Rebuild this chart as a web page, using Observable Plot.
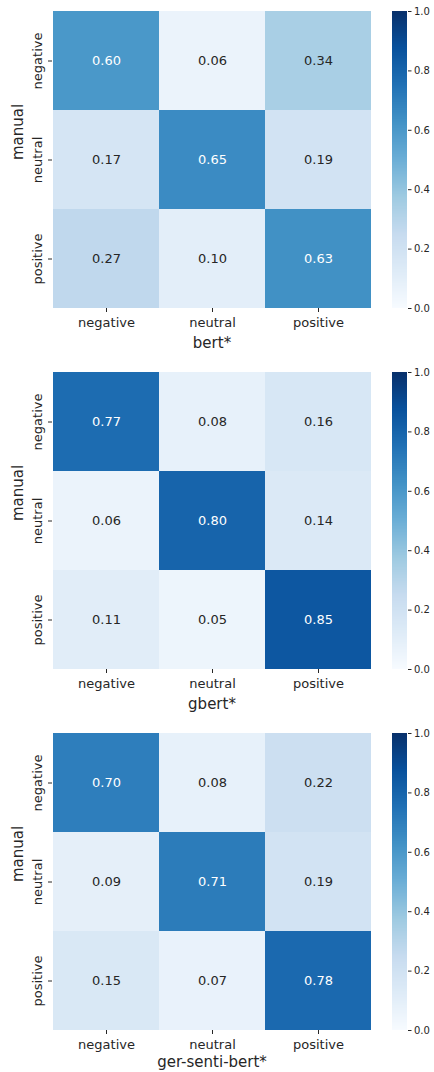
<!DOCTYPE html>
<html>
<head>
<meta charset="utf-8">
<script src="https://cdn.jsdelivr.net/npm/d3@7"></script>
<script src="https://cdn.jsdelivr.net/npm/@observablehq/plot@0.6"></script>
<style>
  body { margin: 0; background: #fff; font-family: "DejaVu Sans", sans-serif; }
  .panel { position: relative; width: 434px; }
  .panel svg { position: absolute; top: 0; }
</style>
</head>
<body>
<div id="charts"></div>
<script>
// Sentiment classes (rows: manual annotation, columns: model prediction)
const classes = ["negative", "neutral", "positive"];

// Row-normalised confusion matrices for each model
const bertMatrix = [
  [0.60, 0.06, 0.34],
  [0.17, 0.65, 0.19],
  [0.27, 0.10, 0.63]
];
const gbertMatrix = [
  [0.77, 0.08, 0.16],
  [0.06, 0.80, 0.14],
  [0.11, 0.05, 0.85]
];
const gerSentiBertMatrix = [
  [0.70, 0.08, 0.22],
  [0.09, 0.71, 0.19],
  [0.15, 0.07, 0.78]
];

const modelNames = ["bert*", "gbert*", "ger-senti-bert*"];
const matrices = [bertMatrix, gbertMatrix, gerSentiBertMatrix];
const rowAxisTitle = "manual";
const colorbarTicks = [0, 0.2, 0.4, 0.6, 0.8, 1.0];

// ColorBrewer "Blues", linearly interpolated
const bluesPalette = ["#f7fbff", "#deebf7", "#c6dbef", "#9ecae1", "#6baed6",
                      "#4292c6", "#2171b5", "#08519c", "#08306b"];
const colorScale = {
  type: "linear",
  domain: bluesPalette.map((_, i) => i / (bluesPalette.length - 1)),
  range: bluesPalette,
  interpolate: "rgb"
};

const font = "DejaVu Sans, sans-serif";
const ink = "#262626";
const panelHeights = [361, 361, 350];
const titleOffsets = [35, 35, 32];

const root = document.getElementById("charts");

matrices.forEach((matrix, k) => {
  const cells = [];
  matrix.forEach((row, i) => row.forEach((value, j) => {
    cells.push({manual: classes[i], predicted: classes[j], value});
  }));

  const panel = document.createElement("div");
  panel.className = "panel";
  panel.style.height = panelHeights[k] + "px";
  root.appendChild(panel);

  const heatmap = Plot.plot({
    width: 380,
    height: 361,
    marginLeft: 52,
    marginRight: 9,
    marginTop: 11,
    marginBottom: 53,
    style: {fontFamily: font, color: ink, background: "transparent"},
    x: {domain: classes, padding: 0, axis: null},
    y: {domain: classes, padding: 0, axis: null},
    color: colorScale,
    marks: [
      Plot.cell(cells, {x: "predicted", y: "manual", fill: "value", inset: 0}),
      Plot.text(cells, {
        x: "predicted", y: "manual",
        text: d => d.value.toFixed(2),
        fill: d => d.value > 0.5 ? "#ffffff" : ink,
        fontSize: 13
      }),
      Plot.axisX({
        anchor: "bottom", tickSize: 4, tickPadding: 5,
        fontSize: 13, label: null, stroke: ink, fill: ink
      }),
      Plot.axisY({
        anchor: "left", tickSize: 4, tickPadding: 7, tickRotate: -90,
        fontSize: 13, label: null, stroke: ink, fill: ink
      }),
      Plot.text([modelNames[k]], {
        frameAnchor: "bottom", dy: titleOffsets[k], fontSize: 15, fill: ink,
        lineAnchor: "middle"
      }),
      Plot.text([rowAxisTitle], {
        frameAnchor: "left", dx: -34, rotate: -90, fontSize: 15, fill: ink
      })
    ]
  });
  heatmap.style.left = "0px";
  panel.appendChild(heatmap);

  // Vertical colour bar
  const steps = d3.range(0, 1, 0.0025);
  const colorbar = Plot.plot({
    width: 54,
    height: 361,
    marginLeft: 12,
    marginRight: 27,
    marginTop: 11,
    marginBottom: 53,
    style: {fontFamily: font, color: ink, background: "transparent"},
    y: {domain: [0, 1], axis: null},
    color: colorScale,
    marks: [
      Plot.rect(steps, {
        y1: d => d, y2: d => Math.min(1, d + 0.0035), fill: d => d + 0.00125,
        shapeRendering: "crispEdges"
      }),
      Plot.axisY({
        anchor: "right", ticks: colorbarTicks, tickFormat: d3.format(".1f"),
        tickSize: 3.5, tickPadding: 3, fontSize: 10, label: null,
        stroke: ink, fill: ink
      })
    ]
  });
  colorbar.style.left = "380px";
  panel.appendChild(colorbar);
});
</script>
</body>
</html>
